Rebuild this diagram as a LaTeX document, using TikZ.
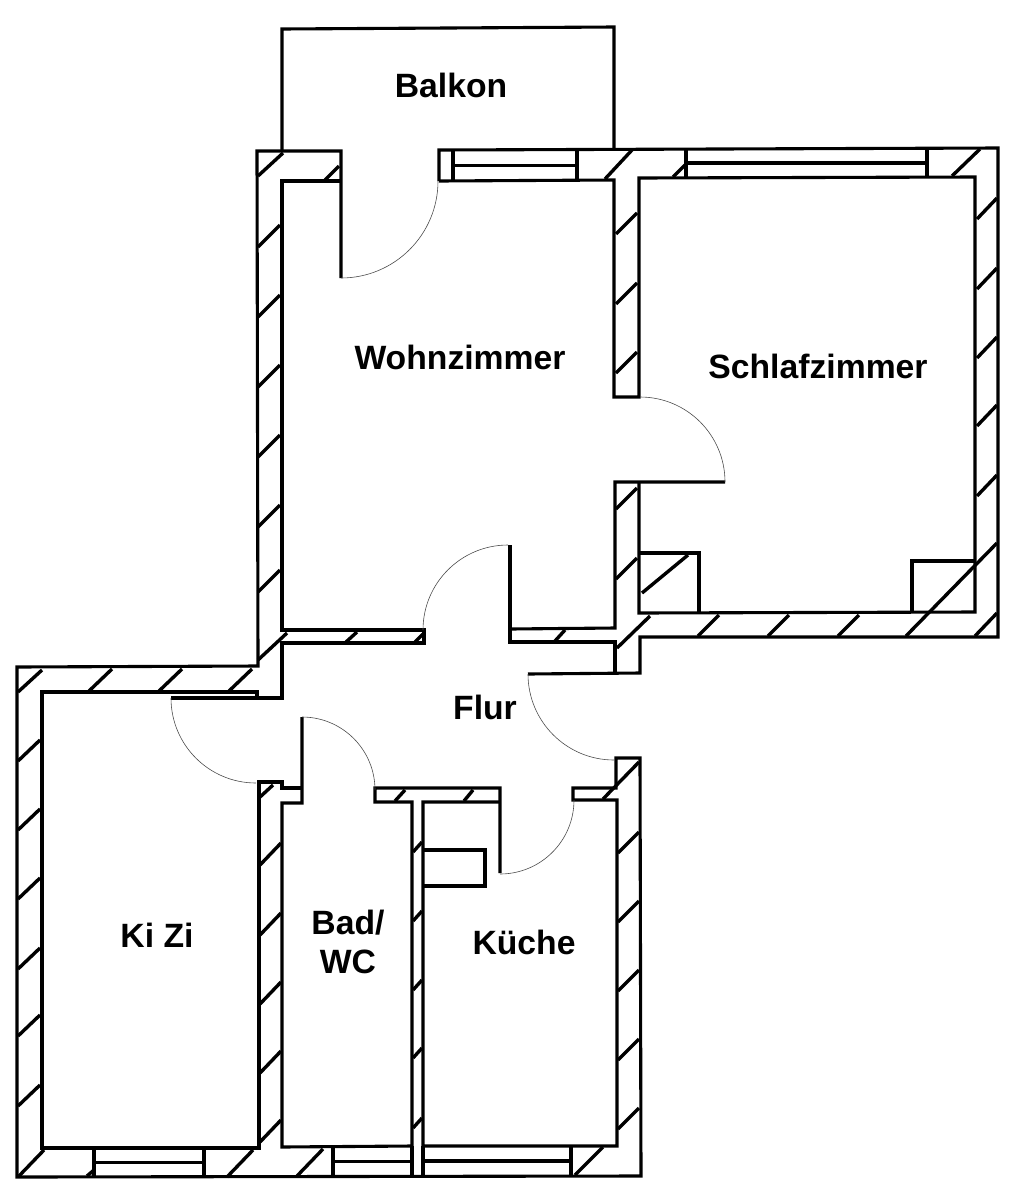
\documentclass[tikz,border=0pt]{standalone}
\usepackage{fontspec}
\setmainfont{Liberation Sans}
\usetikzlibrary{positioning}

\begin{document}
\begin{tikzpicture}[x=1pt,y=-1pt]
    \tikzstyle{wall}=[draw,line width=3.1pt,line join=miter]
    \tikzstyle{hatch}=[draw,line width=3.4pt]
    \tikzstyle{swing}=[draw,line width=0.6pt,black!70]
    \tikzstyle{room}=[font=\fontsize{33.7}{39}\selectfont\bfseries,align=center,inner sep=0pt]

    \useasboundingbox (0,0) rectangle (1026,1200);

    % balcony and outer walls
    \draw[wall] (282,151) -- (282,29) -- (614,27) -- (614,150);
    \draw[wall] (341,278) -- (341,151) -- (257,151) -- (258,666) -- (17,667) -- (17,1177) -- (641,1176) -- (640,758) -- (616,758) -- (616,788) -- (573,788) -- (573,800) -- (617,800) -- (617,1146) -- (423,1146) -- (423,802) -- (499,802);
    \draw[wall] (500,873) -- (500,788) -- (375,788) -- (375,802) -- (412,802) -- (412,1146) -- (282,1147) -- (282,803) -- (302,803) -- (302,717);
    \draw[wall] (302,788) -- (282,788) -- (282,782) -- (259,782) -- (259,1148) -- (42,1148) -- (42,692) -- (257,692) -- (257,698);
    \draw[wall] (171,698) -- (282,698) -- (282,643) -- (424,643) -- (424,630) -- (282,630) -- (282,181) -- (341,181);
    \draw[wall] (439,181) -- (439,150) -- (998,148) -- (998,637) -- (640,637) -- (640,673) -- (528,674);
    \draw[wall] (439,181) -- (614,180) -- (614,397) -- (639,397) -- (639,178) -- (975,177) -- (975,612) -- (639,613) -- (639,482);
    \draw[wall] (725,482) -- (615,482) -- (615,628) -- (510,629);
    \draw[wall] (510,545) -- (510,642) -- (615,642) -- (615,673);

    % chimneys and cupboard
    \draw[wall] (639,553) -- (699,553) -- (699,613);
    \draw[wall] (912,612) -- (912,561) -- (975,561);
    \draw[wall] (423,850) -- (485,850) -- (485,886) -- (423,886);
    \draw[wall] (412,1146) -- (412,1176);
    \draw[wall] (423,1146) -- (423,1176);

    % windows
    \foreach \a/\b/\top/\low in {453/577/150/181,686/927/149/177,94/204/1148/1177,333/412/1147/1176,423/571/1146/1176} {
      \draw[wall] (\a,\top) -- (\a,\low);
      \draw[wall] (\b,\top) -- (\b,\low);
      \draw[wall] (\a,{(\top+\low)/2}) -- (\b,{(\top+\low)/2});
    }

    % hatching of the walls
    \foreach \i in {225,295,365,435,505,570} {
      \draw[hatch] (280,\i) -- (258,\i+22);
    }
    \foreach \i in {213,283,352,488,558} {
      \draw[hatch] (637,\i) -- (616,\i+21);
    }
    \foreach \i in {198,268,337,405,475} {
      \draw[hatch] (997,\i) -- (977,\i+21);
    }
    \foreach \i in {740,809,878,948,1015,1085} {
      \draw[hatch] (40,\i) -- (18,\i+21);
    }
    \foreach \i in {843,913,982,1051,1120} {
      \draw[hatch] (281,\i) -- (260,\i+22);
    }
    \foreach \i in {842,911,980,1048,1118} {
      \draw[hatch] (422,\i) -- (413,\i+10);
    }
    \foreach \i in {832,901,970,1039,1108} {
      \draw[hatch] (639,\i) -- (618,\i+21);
    }
    \foreach \i in {112,182,252} {
      \draw[hatch] (\i,669) -- (\i-23,691);
    }
    \foreach \i in {719,789,859} {
      \draw[hatch] (\i,615) -- (\i-21,636);
    }
    \draw[hatch] (283,153) -- (258,176);
    \draw[hatch] (339,166) -- (325,180);
    \draw[hatch] (632,150) -- (605,179);
    \draw[hatch] (685,165) -- (673,177);
    \draw[hatch] (980,149) -- (952,176);
    \draw[hatch] (997,543) -- (906,636);
    \draw[hatch] (997,613) -- (975,636);
    \draw[hatch] (688,555) -- (642,593);
    \draw[hatch] (650,616) -- (617,648);
    \draw[hatch] (287,633) -- (258,660);
    \draw[hatch] (357,632) -- (346,642);
    \draw[hatch] (423,634) -- (415,642);
    \draw[hatch] (565,630) -- (555,641);
    \draw[hatch] (42,670) -- (18,692);
    \draw[hatch] (273,785) -- (260,797);
    \draw[hatch] (405,790) -- (395,801);
    \draw[hatch] (473,790) -- (464,801);
    \draw[hatch] (639,762) -- (603,799);
    \draw[hatch] (44,1150) -- (19,1176);
    \draw[hatch] (94,1170) -- (87,1176);
    \draw[hatch] (253,1150) -- (227,1177);
    \draw[hatch] (323,1149) -- (297,1176);
    \draw[hatch] (603,1147) -- (575,1175);

    % door swings
    \draw[swing] (341,278) arc[start angle=270,end angle=360,radius=97pt];
    \draw[swing] (640,397) arc[start angle=90,end angle=0,radius=85pt];
    \draw[swing] (423,630) arc[start angle=180,end angle=90,radius=85pt];
    \draw[swing] (528,674) arc[start angle=180,end angle=270,radius=86pt];
    \draw[swing] (171,698) arc[start angle=180,end angle=270,radius=85pt];
    \draw[swing] (302,717) arc[start angle=90,end angle=0,radius=73pt];
    \draw[swing] (574,800) arc[start angle=0,end angle=-90,radius=74pt];

    \node[room] at (451,85) (balkon) {Balkon};
    \node[room] at (460,357) (wohn) {Wohnzimmer};
    \node[room] at (818,366) (schlaf) {Schlafzimmer};
    \node[room] at (485,707) (flur) {Flur};
    \node[room] at (157,935) (kizi) {Ki Zi};
    \node[room] at (348,942) (bad) {Bad/\\WC};
    \node[room] at (524,942) (kueche) {Küche};
\end{tikzpicture}
\end{document}
